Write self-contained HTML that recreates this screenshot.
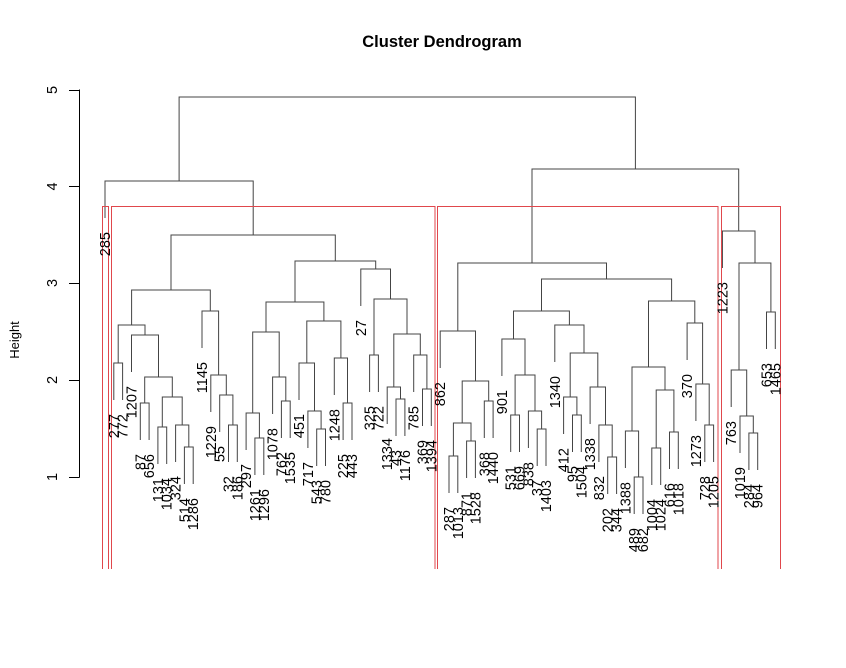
<!DOCTYPE html>
<html><head><meta charset="utf-8"><style>
html,body{margin:0;padding:0;background:#fff}
svg{display:block}
text{font-family:"Liberation Sans",sans-serif}
.t text{font-size:14.5px;fill:#000}
</style></head><body>
<svg width="846" height="668" viewBox="0 0 846 668" xmlns="http://www.w3.org/2000/svg">
<text x="442" y="47" text-anchor="middle" font-size="16.5" font-weight="bold">Cluster Dendrogram</text>
<text transform="translate(19,340) rotate(-90)" text-anchor="middle" font-size="13">Height</text>
<g stroke="#000" stroke-width="1" fill="none">
<path d="M79.5 89.5V477.5M69 90.5H79.5M69 186.5H79.5M69 283.5H79.5M69 380.5H79.5M69 477.5H79.5"/>
</g>
<g font-size="14.5" text-anchor="middle">
<text transform="translate(57,90) rotate(-90)">5</text>
<text transform="translate(57,186.5) rotate(-90)">4</text>
<text transform="translate(57,283) rotate(-90)">3</text>
<text transform="translate(57,380) rotate(-90)">2</text>
<text transform="translate(57,477) rotate(-90)">1</text>
</g>
<g stroke="#444" stroke-width="1" fill="none">
<path d="M113.8 400V363H122.6V400"/>
<path d="M184.4 484V447H193.2V484"/>
<path d="M175.6 462V425H188.8V447"/>
<path d="M157.9 464V427H166.7V464"/>
<path d="M162.3 427V397H182.2V425"/>
<path d="M140.3 440V403H149.1V440"/>
<path d="M144.7 403V377H172.3V397"/>
<path d="M131.5 372V335H158.5V377"/>
<path d="M118.2 363V325H145V335"/>
<path d="M228.5 462V425H237.3V462"/>
<path d="M219.7 432V395H232.9V425"/>
<path d="M210.8 412V375H226.3V395"/>
<path d="M202 348V311H218.6V375"/>
<path d="M131.6 325V290H210.3V311"/>
<path d="M254.9 475V438H263.8V475"/>
<path d="M246.1 450V413H259.4V438"/>
<path d="M281.4 438V401H290.2V438"/>
<path d="M272.6 414V377H285.8V401"/>
<path d="M252.7 413V332H279.2V377"/>
<path d="M316.7 466V429H325.5V466"/>
<path d="M307.9 448V411H321.1V429"/>
<path d="M299 400V363H314.5V411"/>
<path d="M343.1 440V403H352V440"/>
<path d="M334.3 395V358H347.5V403"/>
<path d="M306.8 363V321H340.9V358"/>
<path d="M266 332V302H323.9V321"/>
<path d="M369.6 392V355H378.4V392"/>
<path d="M396 436V399H404.9V436"/>
<path d="M387.2 424V387H400.5V399"/>
<path d="M422.5 426V389H431.3V426"/>
<path d="M413.7 392V355H426.9V389"/>
<path d="M393.8 387V334H420.3V355"/>
<path d="M374 355V299H407V334"/>
<path d="M360.8 306V269H390.5V299"/>
<path d="M295 302V261H375.7V269"/>
<path d="M171 290V235H335.3V261"/>
<path d="M105 218V181H253.2V235"/>
<path d="M449 493V456H457.8V493"/>
<path d="M466.6 478V441H475.4V478"/>
<path d="M453.4 456V423H471V441"/>
<path d="M484.3 438V401H493.1V438"/>
<path d="M462.2 423V381H488.7V401"/>
<path d="M440.2 368V331H475.5V381"/>
<path d="M510.7 452V415H519.5V452"/>
<path d="M537.2 466V429H546V466"/>
<path d="M528.4 448V411H541.6V429"/>
<path d="M515.1 415V375H535V411"/>
<path d="M501.9 376V339H525V375"/>
<path d="M572.5 452V415H581.3V452"/>
<path d="M563.6 434V397H576.9V415"/>
<path d="M607.7 494V457H616.6V494"/>
<path d="M598.9 462V425H612.2V457"/>
<path d="M590.1 424V387H605.5V425"/>
<path d="M570.2 397V353H597.8V387"/>
<path d="M554.8 362V325H584V353"/>
<path d="M513.5 339V311H569.4V325"/>
<path d="M634.2 514V477H643V514"/>
<path d="M625.4 468V431H638.6V477"/>
<path d="M651.8 485V448H660.7V485"/>
<path d="M669.5 469V432H678.3V469"/>
<path d="M656.2 448V390H673.9V432"/>
<path d="M632 431V367H665V390"/>
<path d="M704.8 462V425H713.6V462"/>
<path d="M695.9 421V384H709.2V425"/>
<path d="M687.1 360V323H702.6V384"/>
<path d="M648.5 367V301H694.8V323"/>
<path d="M541.5 311V279H671.6V301"/>
<path d="M457.8 331V263H606.5V279"/>
<path d="M748.9 470V433H757.7V470"/>
<path d="M740 453V416H753.3V433"/>
<path d="M731.2 407V370H746.7V416"/>
<path d="M766.5 349V312H775.3V349"/>
<path d="M739 370V263H770.9V312"/>
<path d="M722.4 268V231H755V263"/>
<path d="M532 263V169H738.7V231"/>
<path d="M179.1 181V97H635.4V169"/>
</g>
<g stroke="#e0474c" stroke-width="1" fill="none">
<path d="M102.5 569V206.5H108.5V569"/>
<path d="M111.5 569V206.5H435V569"/>
<path d="M437.5 569V206.5H718V569"/>
<path d="M721.5 569V206.5H780.5V569"/>
</g>
<g class="t" text-anchor="end">
<text transform="translate(110,232) rotate(-90)">285</text>
<text transform="translate(118.8,414) rotate(-90)">277</text>
<text transform="translate(127.6,414) rotate(-90)">772</text>
<text transform="translate(136.5,386) rotate(-90)">1207</text>
<text transform="translate(145.3,454) rotate(-90)">87</text>
<text transform="translate(154.1,454) rotate(-90)">656</text>
<text transform="translate(162.9,478) rotate(-90)">131</text>
<text transform="translate(171.7,478) rotate(-90)">1034</text>
<text transform="translate(180.6,476) rotate(-90)">324</text>
<text transform="translate(189.4,498) rotate(-90)">514</text>
<text transform="translate(198.2,498) rotate(-90)">1286</text>
<text transform="translate(207,362) rotate(-90)">1145</text>
<text transform="translate(215.8,426) rotate(-90)">1229</text>
<text transform="translate(224.7,446) rotate(-90)">55</text>
<text transform="translate(233.5,476) rotate(-90)">32</text>
<text transform="translate(242.3,476) rotate(-90)">186</text>
<text transform="translate(251.1,464) rotate(-90)">297</text>
<text transform="translate(259.9,489) rotate(-90)">1261</text>
<text transform="translate(268.8,489) rotate(-90)">1296</text>
<text transform="translate(277.6,428) rotate(-90)">1078</text>
<text transform="translate(286.4,452) rotate(-90)">762</text>
<text transform="translate(295.2,452) rotate(-90)">1535</text>
<text transform="translate(304,414) rotate(-90)">451</text>
<text transform="translate(312.9,462) rotate(-90)">717</text>
<text transform="translate(321.7,480) rotate(-90)">543</text>
<text transform="translate(330.5,480) rotate(-90)">780</text>
<text transform="translate(339.3,409) rotate(-90)">1248</text>
<text transform="translate(348.1,454) rotate(-90)">225</text>
<text transform="translate(357,454) rotate(-90)">443</text>
<text transform="translate(365.8,320) rotate(-90)">27</text>
<text transform="translate(374.6,406) rotate(-90)">325</text>
<text transform="translate(383.4,406) rotate(-90)">722</text>
<text transform="translate(392.2,438) rotate(-90)">1334</text>
<text transform="translate(401,450) rotate(-90)">43</text>
<text transform="translate(409.9,450) rotate(-90)">1176</text>
<text transform="translate(418.7,406) rotate(-90)">785</text>
<text transform="translate(427.5,440) rotate(-90)">369</text>
<text transform="translate(436.3,440) rotate(-90)">1394</text>
<text transform="translate(445.2,382) rotate(-90)">862</text>
<text transform="translate(454,507) rotate(-90)">287</text>
<text transform="translate(462.8,507) rotate(-90)">1013</text>
<text transform="translate(471.6,492) rotate(-90)">871</text>
<text transform="translate(480.4,492) rotate(-90)">1528</text>
<text transform="translate(489.3,452) rotate(-90)">368</text>
<text transform="translate(498.1,452) rotate(-90)">1440</text>
<text transform="translate(506.9,390) rotate(-90)">901</text>
<text transform="translate(515.7,466) rotate(-90)">531</text>
<text transform="translate(524.5,466) rotate(-90)">669</text>
<text transform="translate(533.4,462) rotate(-90)">838</text>
<text transform="translate(542.2,480) rotate(-90)">37</text>
<text transform="translate(551,480) rotate(-90)">1403</text>
<text transform="translate(559.8,376) rotate(-90)">1340</text>
<text transform="translate(568.6,448) rotate(-90)">412</text>
<text transform="translate(577.5,466) rotate(-90)">95</text>
<text transform="translate(586.3,466) rotate(-90)">1504</text>
<text transform="translate(595.1,438) rotate(-90)">1338</text>
<text transform="translate(603.9,476) rotate(-90)">832</text>
<text transform="translate(612.7,508) rotate(-90)">202</text>
<text transform="translate(621.6,508) rotate(-90)">344</text>
<text transform="translate(630.4,482) rotate(-90)">1388</text>
<text transform="translate(639.2,528) rotate(-90)">489</text>
<text transform="translate(648,528) rotate(-90)">682</text>
<text transform="translate(656.8,499) rotate(-90)">1004</text>
<text transform="translate(665.7,499) rotate(-90)">1024</text>
<text transform="translate(674.5,483) rotate(-90)">616</text>
<text transform="translate(683.3,483) rotate(-90)">1018</text>
<text transform="translate(692.1,374) rotate(-90)">370</text>
<text transform="translate(700.9,435) rotate(-90)">1273</text>
<text transform="translate(709.8,476) rotate(-90)">728</text>
<text transform="translate(718.6,476) rotate(-90)">1205</text>
<text transform="translate(727.4,282) rotate(-90)">1223</text>
<text transform="translate(736.2,421) rotate(-90)">763</text>
<text transform="translate(745,467) rotate(-90)">1019</text>
<text transform="translate(753.9,484) rotate(-90)">284</text>
<text transform="translate(762.7,484) rotate(-90)">964</text>
<text transform="translate(771.5,363) rotate(-90)">653</text>
<text transform="translate(780.3,363) rotate(-90)">1465</text>
</g>
</svg>
</body></html>
